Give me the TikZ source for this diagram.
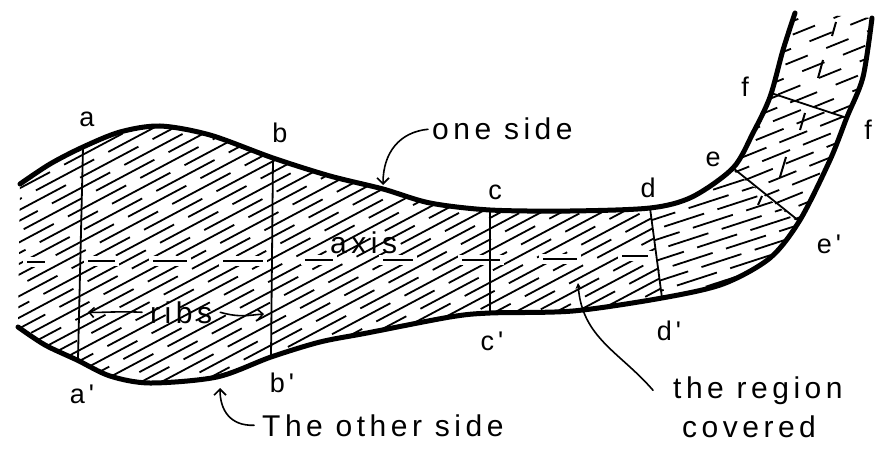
\documentclass[tikz,border=0pt]{standalone}
\usepackage{fontspec}
\newfontfamily\hand[LetterSpace=15]{Liberation Sans}
\usetikzlibrary{arrows.meta}
\begin{document}
\begin{tikzpicture}[x=1pt,y=-1pt,
  side/.style={line width=5pt, line cap=round, line join=round},
  rib/.style={line width=1.8pt},
  hatchline/.style={line width=1.8pt},
  axisdash/.style={line width=2pt},
  halo/.style={white, line width=10pt},
  lbl/.style={font=\hand\fontsize{27}{29}\selectfont, inner sep=0pt, anchor=base},
  txt/.style={font=\hand\fontsize{30}{32}\selectfont, inner sep=0pt, anchor=base west},
  ptr/.style={line width=1.6pt, line cap=round},
  barb/.style={-{Straight Barb[length=6pt,width=12pt]}},
]
\useasboundingbox (0,0) rectangle (888,449);

% ---------- hatching, segment 1 (left of rib d) ----------
\begin{scope}
  \clip plot[smooth,tension=.5] coordinates {(20,184) (50,164) (83,147) (120,132) (160,126) (210,135) (273,158) (330,176) (383,189) (430,203) (490,210) (570,211) (650,208) (692,197) (733,168) (753,133) (770,97) (783,50) (795,13)}
     -- plot[smooth,tension=.5] coordinates {(872,18) (863,77) (847,117) (830,160) (800,220) (770,258) (723,284) (662,298) (573,311) (490,313) (450,317) (367,333) (320,342) (271,357) (217,377) (150,383) (110,376) (77,360) (45,345) (18,327)} -- cycle;
  \clip (0,0) -- (646,0) -- (646,180) -- (666,328) -- (666,449) -- (0,449) -- cycle;
  \begin{scope}[rotate around={28:(330,260)}]
    \foreach \k [evaluate=\k as \ph using {mod(37*\k+800,82)}] in {-40,...,40}
      \draw[hatchline, dash pattern=on 66pt off 16pt, dash phase=\ph pt] (-120,260+\k*9.5) -- (780,260+\k*9.5);
  \end{scope}
\end{scope}

% ---------- hatching, segment 2 (d to e) ----------
\begin{scope}
  \clip plot[smooth,tension=.5] coordinates {(20,184) (50,164) (83,147) (120,132) (160,126) (210,135) (273,158) (330,176) (383,189) (430,203) (490,210) (570,211) (650,208) (692,197) (733,168) (753,133) (770,97) (783,50) (795,13)}
     -- plot[smooth,tension=.5] coordinates {(872,18) (863,77) (847,117) (830,160) (800,220) (770,258) (723,284) (662,298) (573,311) (490,313) (450,317) (367,333) (320,342) (271,357) (217,377) (150,383) (110,376) (77,360) (45,345) (18,327)} -- cycle;
  \clip (646,180) -- (710,152) -- (820,240) -- (666,328) -- cycle;
  \begin{scope}[rotate around={18:(720,240)}]
    \foreach \k [evaluate=\k as \ph using {mod(29*\k+800,56)}] in {-14,...,14}
      \draw[hatchline, dash pattern=on 42pt off 14pt, dash phase=\ph pt] (600,240+\k*10) -- (860,240+\k*10);
  \end{scope}
\end{scope}

% ---------- hatching, segment 3 (e to f) ----------
\begin{scope}
  \clip plot[smooth,tension=.5] coordinates {(20,184) (50,164) (83,147) (120,132) (160,126) (210,135) (273,158) (330,176) (383,189) (430,203) (490,210) (570,211) (650,208) (692,197) (733,168) (753,133) (770,97) (783,50) (795,13)}
     -- plot[smooth,tension=.5] coordinates {(872,18) (863,77) (847,117) (830,160) (800,220) (770,258) (723,284) (662,298) (573,311) (490,313) (450,317) (367,333) (320,342) (271,357) (217,377) (150,383) (110,376) (77,360) (45,345) (18,327)} -- cycle;
  \clip (710,152) -- (749,85) -- (869,126) -- (820,240) -- cycle;
  \begin{scope}[rotate around={22:(790,150)}]
    \foreach \k [evaluate=\k as \ph using {mod(23*\k+800,44)}] in {-14,...,14}
      \draw[hatchline, dash pattern=on 30pt off 14pt, dash phase=\ph pt] (680,150+\k*11) -- (900,150+\k*11);
  \end{scope}
\end{scope}

% ---------- hatching, segment 4 (above f) ----------
\begin{scope}
  \clip plot[smooth,tension=.5] coordinates {(20,184) (50,164) (83,147) (120,132) (160,126) (210,135) (273,158) (330,176) (383,189) (430,203) (490,210) (570,211) (650,208) (692,197) (733,168) (753,133) (770,97) (783,50) (795,13)}
     -- plot[smooth,tension=.5] coordinates {(872,18) (863,77) (847,117) (830,160) (800,220) (770,258) (723,284) (662,298) (573,311) (490,313) (450,317) (367,333) (320,342) (271,357) (217,377) (150,383) (110,376) (77,360) (45,345) (18,327)} -- cycle;
  \clip (749,85) -- (869,126) -- (888,0) -- (770,0) -- cycle;
  \begin{scope}[rotate around={22:(830,60)}]
    \foreach \k [evaluate=\k as \ph using {mod(31*\k+800,44)}] in {-10,...,10}
      \draw[hatchline, dash pattern=on 24pt off 20pt, dash phase=\ph pt] (720,60+\k*12.5) -- (940,60+\k*12.5);
  \end{scope}
\end{scope}

% ---------- axis ----------
\foreach \xa/\xb/\ya in {27/45/262, 88/115/261, 153/187/261, 223/263/261, 305/333/260, 383/413/260, 462/500/260, 543/577/259, 622/648/256}
  \draw[halo] (\xa-4,\ya) -- (\xb+4,\ya);
\foreach \xa/\xb/\ya in {27/45/262, 88/115/261, 153/187/261, 223/263/261, 305/333/260, 383/413/260, 462/500/260, 543/577/259, 622/648/256}
  \draw[axisdash] (\xa,\ya) -- (\xb,\ya);
\foreach \xa/\ya/\xb/\yb in {832/36/836/22, 818/78/823/60, 800/130/805/113, 780/177/786/157, 758/205/762/196}
  \draw[axisdash] (\xa,\ya) -- (\xb,\yb);

% ---------- ribs ----------
\coordinate (aT) at (83,147);  \coordinate (aB) at (78,359);
\coordinate (bT) at (273,158); \coordinate (bB) at (271,357);
\coordinate (cT) at (490,210); \coordinate (cB) at (490,313);
\coordinate (dT) at (650,208); \coordinate (dB) at (662,298);
\coordinate (eT) at (733,168); \coordinate (eB) at (799,221);
\coordinate (fT) at (771,93);  \coordinate (fB) at (847,118);
\draw[rib] (aT) -- (aB);
\draw[rib] (bT) -- (bB);
\draw[rib] (cT) -- (cB);
\draw[rib] (dT) -- (dB);
\draw[rib] (eT) -- (eB);
\draw[rib] (fT) -- (fB);

% ---------- the two sides ----------
\draw[side] plot[smooth,tension=.5] coordinates {(20,184) (50,164) (83,147) (120,132) (160,126) (210,135) (273,158) (330,176) (383,189) (430,203) (490,210) (570,211) (650,208) (692,197) (733,168) (753,133) (770,97) (783,50) (795,13)};
\draw[side] plot[smooth,tension=.5] coordinates {(18,327) (45,345) (77,360) (110,376) (150,383) (217,377) (271,357) (320,342) (367,333) (450,317) (490,313) (573,311) (662,298) (723,284) (770,258) (800,220) (830,160) (847,117) (863,77) (872,18)};

% ---------- point labels ----------
\node[lbl] (la)  at (87,127)  {a};
\node[lbl] (lb)  at (280,143) {b};
\node[lbl] (lc)  at (495,200) {c};
\node[lbl] (ld)  at (648,197) {d};
\node[lbl] (le)  at (713,167) {e};
\node[lbl] (lf1) at (745,97)  {f};
\node[lbl] (lf2) at (868,140) {f};
\node[lbl] (la2) at (82,403)  {a'};
\node[lbl] (lb2) at (282,392) {b'};
\node[lbl] (lc2) at (492,350) {c'};
\node[lbl] (ld2) at (669,340) {d'};
\node[lbl] (le2) at (829,253) {e'};

% ---------- texts and pointers ----------
\node[txt] (oneside) at (432,140) {one side};
\node[txt] (other)   at (262,436) {The other side};
\node[txt] (axis)    at (330,253) {axis};
\node[txt] (ribs)    at (150,323) {ribs};
\node[txt] (region)  at (673,398) {the region};
\node[txt] (covered) at (682,437) {covered};

\coordinate (oneTip)   at (383,185);
\coordinate (otherTip) at (220,388);
\coordinate (ribL)     at (88,312);
\coordinate (ribR)     at (264,314);
\coordinate (regTip)   at (578,283);

\draw[ptr,barb] ([xshift=-4pt]oneside.west) .. controls (400,132) and (383,152) .. (oneTip);
\draw[ptr,barb] ([xshift=-8pt]other.west) .. controls (230,426) and (220,410) .. (otherTip);
\draw[ptr,-{Straight Barb[length=5pt,width=10pt]}] ([xshift=-8pt]ribs.west) .. controls (118,311) and (100,313) .. (ribL);
\draw[ptr,-{Straight Barb[length=5pt,width=10pt]}] ([xshift=8pt]ribs.east) .. controls (240,318) and (250,315) .. (ribR);
\draw[ptr,-{Stealth[length=6pt,width=6pt]}] ([xshift=-20pt]region.west) .. controls (620,352) and (582,338) .. (regTip);
\end{tikzpicture}
\end{document}
